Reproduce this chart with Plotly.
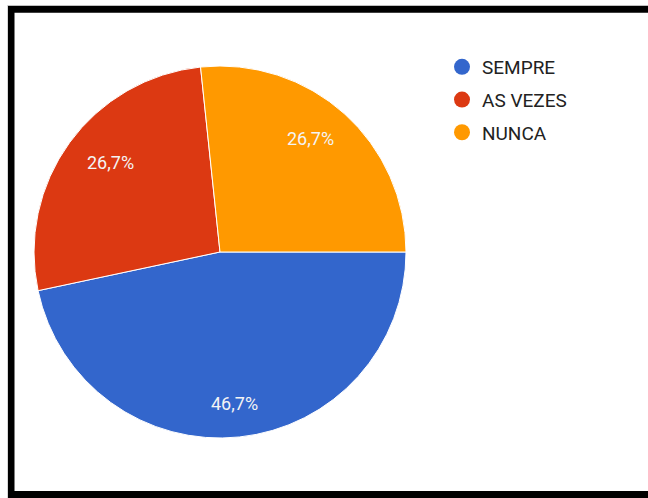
import math
import plotly.graph_objects as go

# Survey answers and their counts
categories = ["SEMPRE", "AS VEZES", "NUNCA"]
counts = [7, 4, 4]
colors = ["#3366cc", "#dc3912", "#ff9900"]

W, H = 648, 498

fig = go.Figure()

# Pie: centre around (220, 252) px
cx, cy, r = 220, 252, 186
start = 90  # first slice starts at 3 o'clock, going clockwise
fig.add_trace(go.Pie(
    labels=categories,
    values=counts,
    sort=False,
    direction="clockwise",
    rotation=start,
    marker=dict(colors=colors, line=dict(color="white", width=1)),
    textinfo="none",
    hoverinfo="label+percent",
    showlegend=False,
    domain=dict(x=[(cx - r) / W, (cx + r) / W],
                y=[(H - cy - r) / H, (H - cy + r) / H]),
))

# Percentage labels placed along each slice's mid-angle
total = sum(counts)
acc = 0
for v in counts:
    mid = start + 360 * (acc + v / 2) / total
    acc += v
    px = cx + 0.73 * r * math.sin(math.radians(mid))
    py = cy - 0.82 * r * math.cos(math.radians(mid))
    pct = f"{100 * v / total:.1f}".replace(".", ",") + "%"
    fig.add_annotation(x=px / W, y=1 - py / H, xref="paper", yref="paper",
                       xanchor="center", yanchor="middle",
                       text=pct, showarrow=False,
                       font=dict(family="Roboto", size=18, color="#f4f4f4"))

# Legend entries with round markers
for name, col in zip(categories, colors):
    fig.add_trace(go.Scatter(
        x=[None], y=[None], mode="markers", name=name,
        legendgroup=name,
        marker=dict(symbol="circle", size=16, color=col),
        hoverinfo="skip",
    ))

# Open black frame (top, left, bottom) drawn as a single polyline
xl = 11 / W
yt = 1 - 9.25 / H
yb = 3.5 / H
fig.add_shape(type="path", xref="paper", yref="paper",
              path=f"M 1.05,{yt} L {xl},{yt} L {xl},{yb} L 1.05,{yb}",
              line=dict(color="black", width=7), fillcolor="rgba(0,0,0,0)")
fig.add_shape(type="line", xref="paper", yref="paper", x0=7.5 / W, x1=7.5 / W,
              y0=0, y1=1 - 5 / H, line=dict(color="#d8d8d8", width=1))

fig.update_layout(
    width=W, height=H,
    margin=dict(l=0, r=0, t=0, b=0),
    paper_bgcolor="white", plot_bgcolor="white",
    xaxis=dict(visible=False), yaxis=dict(visible=False),
    legend=dict(
        x=442 / W, y=1 - 48 / H, xanchor="left", yanchor="top",
        font=dict(family="Roboto", size=19, color="#222222"),
        tracegroupgap=5, itemsizing="trace",
        bgcolor="rgba(0,0,0,0)",
    ),
)

fig.write_html("out.html")
